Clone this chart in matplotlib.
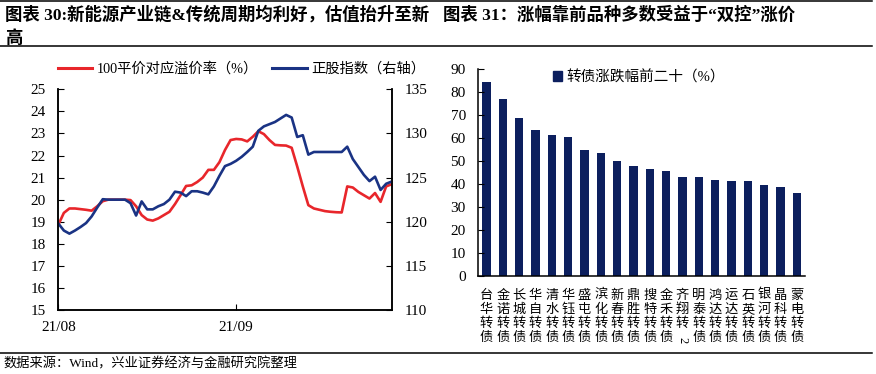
import matplotlib.pyplot as plt
from matplotlib.lines import Line2D
from matplotlib.patches import Patch
from matplotlib.transforms import blended_transform_factory

plt.rcParams['font.family'] = ['Liberation Serif', 'Noto Sans CJK SC']

# 左图：100平价对应溢价率（%）与正股指数（右轴），按交易日读数
premium = [18.86, 19.4, 19.6, 19.6, 19.57, 19.54, 19.5, 19.7, 19.93, 20.0,
           20.0, 20.0, 20.0, 19.98, 19.7, 19.3, 19.1, 19.05, 19.15, 19.3,
           19.45, 19.8, 20.2, 20.62, 20.65, 20.8, 21.0, 21.35, 21.35, 21.7,
           22.25, 22.7, 22.75, 22.73, 22.64, 22.85, 23.1, 22.97, 22.7, 22.48,
           22.46, 22.45, 22.35, 21.5, 20.6, 19.75, 19.6, 19.54, 19.48, 19.45,
           19.43, 19.42, 20.6, 20.55, 20.35, 20.2, 20.05, 20.3, 19.9, 20.6, 20.7]
stock_index = [119.8, 119.0, 118.65, 119.0, 119.4, 119.85, 120.6, 121.6, 122.55, 122.5,
               122.5, 122.5, 122.5, 122.1, 120.7, 122.3, 121.4, 121.4, 121.75, 122.0,
               122.5, 123.4, 123.3, 122.9, 123.45, 123.45, 123.3, 123.1, 124.0, 125.2,
               126.3, 126.55, 126.9, 127.35, 127.9, 128.5, 130.3, 130.8, 131.05, 131.3,
               131.7, 132.1, 131.8, 129.6, 129.8, 127.6, 127.9, 127.9, 127.9, 127.9,
               127.9, 127.9, 128.5, 127.1, 126.2, 125.3, 124.6, 125.1, 123.6, 124.3, 124.55]
date_ticks = [0, 32]
date_labels = ['21/08', '21/09']

# 右图：转债涨跌幅前二十（%）
bond_names = ['台华转债', '金诺转债', '长城转债', '华自转债', '清水转债', '华钰转债',
              '盛屯转债', '滨化转债', '新春转债', '鼎胜转债', '搜特转债', '金禾转债',
              '齐翔转2', '明泰转债', '鸿达转债', '运达转债', '石英转债', '银河转债',
              '晶科转债', '蒙电转债']
bond_gain = [84.3, 76.8, 68.6, 63.6, 61.2, 60.4, 54.6, 53.6, 50.0, 48.0,
             46.4, 45.8, 43.2, 42.9, 41.6, 41.4, 41.2, 39.4, 38.7, 35.9]

red = '#e8262b'
blue = '#1a3384'
navy = '#0c1f5e'

fig = plt.figure(figsize=(8.76, 3.74), dpi=100)
W, H = 876, 374

def fx(px):
    return px / W

def fy(py):
    return 1 - py / H

# 标题与分隔线
fig.text(fx(5), fy(15), '图表 30:新能源产业链&传统周期均利好，估值抬升至新',
         fontsize=12.5, weight='bold', va='center')
fig.text(fx(5), fy(38), '高', fontsize=12.5, weight='bold', va='center')
fig.text(fx(443), fy(15), '图表 31：涨幅靠前品种多数受益于“双控”涨价',
         fontsize=12.5, weight='bold', va='center')
for yy in [fy(0.6), fy(46), fy(352.5)]:
    fig.add_artist(Line2D([0, 0.995], [yy, yy], transform=fig.transFigure,
                          color='black', lw=1.1))
fig.text(fx(3), fy(364), '数据来源：Wind，兴业证券经济与金融研究院整理',
         fontsize=9.5, va='center')

# 左图
ax1 = fig.add_axes([fx(58.3), fy(310), fx(391.7) - fx(58.3), fy(89.3) - fy(310)])
x = list(range(len(premium)))
ax1.plot(x, premium, color=red, lw=1.9)
ax1.set_xlim(0, len(premium) - 1)
ax1.set_ylim(15, 25)
ax1.set_yticks(range(15, 26))
ax1.set_xticks(date_ticks)
ax1.set_xticklabels(date_labels)
ax1.tick_params(axis='y', direction='in', length=4, pad=9, labelsize=11)
ax1.tick_params(axis='x', direction='in', length=4, pad=8, labelsize=11)
ax1.spines['top'].set_visible(False)

ax2 = ax1.twinx()
ax2.plot(x, stock_index, color=blue, lw=1.9)
ax2.set_ylim(110, 135)
ax2.set_yticks(range(110, 136, 5))
ax2.tick_params(axis='y', direction='in', length=4, pad=9, labelsize=11)
ax2.spines['top'].set_visible(False)
for ax in (ax1, ax2):
    for s in ax.spines.values():
        s.set_linewidth(1.1)

handles = [Line2D([], [], color=red, lw=2.2), Line2D([], [], color=blue, lw=2.2)]
fig.legend(handles, ['100平价对应溢价率（%）', '正股指数（右轴）'],
           loc='center left', bbox_to_anchor=(fx(58), fy(69)), ncol=2,
           frameon=False, fontsize=10.3, handlelength=2.4, handletextpad=0.3,
           columnspacing=1.0, borderpad=0, borderaxespad=0)

# 右图
ax3 = fig.add_axes([fx(478.3), fy(276), fx(805) - fx(478.3), fy(69) - fy(276)])
pos = list(range(len(bond_gain)))
ax3.bar(pos, bond_gain, width=0.5, color=navy)
ax3.set_xlim(-0.5, len(bond_gain) - 0.5)
ax3.set_ylim(0, 90)
ax3.set_yticks(range(0, 91, 10))
# 竖排标签；“齐翔转2”里的“2”单独旋转放在下面
labels = []
for name in bond_names:
    if name.endswith('2'):
        labels.append('\n'.join(name[:-1]))
    else:
        labels.append('\n'.join(name))
ax3.set_xticks(pos)
ax3.set_xticklabels(labels, fontsize=9.5, linespacing=1.12, va='top',
                    family=['Noto Sans CJK SC', 'DejaVu Sans'])
ax3.tick_params(axis='x', length=0, pad=9)
ax3.tick_params(axis='y', direction='in', length=4, pad=9, labelsize=11)
ax3.spines['top'].set_visible(False)
ax3.spines['right'].set_visible(False)
for s in ax3.spines.values():
    s.set_linewidth(1.1)
tr = blended_transform_factory(ax3.transData, ax3.transAxes)
for i, name in enumerate(bond_names):
    if name.endswith('2'):
        ax3.text(i, -(340 - 276) / 207, '2', transform=tr, rotation=-90,
                 ha='center', va='center', fontsize=9)

fig.legend([Patch(color=navy)], ['转债涨跌幅前二十（%）'],
           loc='center left', bbox_to_anchor=(fx(553), fy(77)),
           frameon=False, fontsize=10.5, handlelength=0.6, handleheight=0.6,
           handletextpad=0.3, borderpad=0, borderaxespad=0)

fig.savefig('out.png', dpi=100)
